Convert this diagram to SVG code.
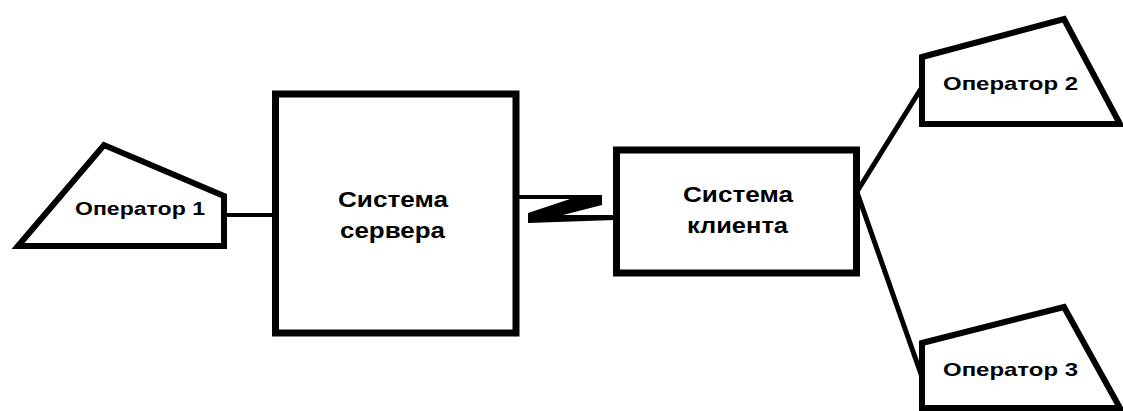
<svg xmlns="http://www.w3.org/2000/svg" width="1123" height="411" viewBox="0 0 1123 411">
<style>
.shape{fill:#fff;stroke:#000;stroke-width:7;stroke-linejoin:miter}
.op{fill:#fff;stroke:#000;stroke-width:6;stroke-linejoin:miter;stroke-miterlimit:10}
.ln{stroke:#000;fill:none}
text{font-family:"Liberation Sans",Arial,sans-serif;font-weight:bold;fill:#000}
.big{font-size:22px}
.small{font-size:19px}
</style>
<rect width="1123" height="411" fill="#fff"/>
<g id="connectors">
<line class="ln" x1="222" y1="215" x2="274" y2="215" stroke-width="4"/>
<polygon fill="#000" points="518,195 602,195 602,205 563,215 615,215 615,220 528,223 528,213 570,199 518,199"/>
<line class="ln" x1="858" y1="190" x2="922" y2="87" stroke-width="5"/>
<line class="ln" x1="858" y1="195" x2="922" y2="377" stroke-width="5"/>
</g>
<g id="operator1">
<polygon class="op" points="18,246 104,145 224,196 224,246"/>
<text class="small" x="75" y="215" textLength="130" lengthAdjust="spacingAndGlyphs">Оператор 1</text>
</g>
<g id="server">
<rect class="shape" x="275.5" y="94" width="240.5" height="239"/>
<text class="big" x="338" y="207" textLength="110" lengthAdjust="spacingAndGlyphs">Система</text>
<text class="big" x="340" y="238" textLength="105" lengthAdjust="spacingAndGlyphs">сервера</text>
</g>
<g id="client">
<rect class="shape" x="616.5" y="150" width="240" height="123"/>
<text class="big" x="683" y="202" textLength="110" lengthAdjust="spacingAndGlyphs">Система</text>
<text class="big" x="687" y="233" textLength="101" lengthAdjust="spacingAndGlyphs">клиента</text>
</g>
<g id="operator2">
<polygon class="op" points="922,57 1064,19 1120,124 922,124"/>
<text class="small" x="943" y="90" textLength="135" lengthAdjust="spacingAndGlyphs">Оператор 2</text>
</g>
<g id="operator3">
<polygon class="op" points="922,343 1064,307 1120,408 922,408"/>
<text class="small" x="943" y="376" textLength="135" lengthAdjust="spacingAndGlyphs">Оператор 3</text>
</g>
</svg>
